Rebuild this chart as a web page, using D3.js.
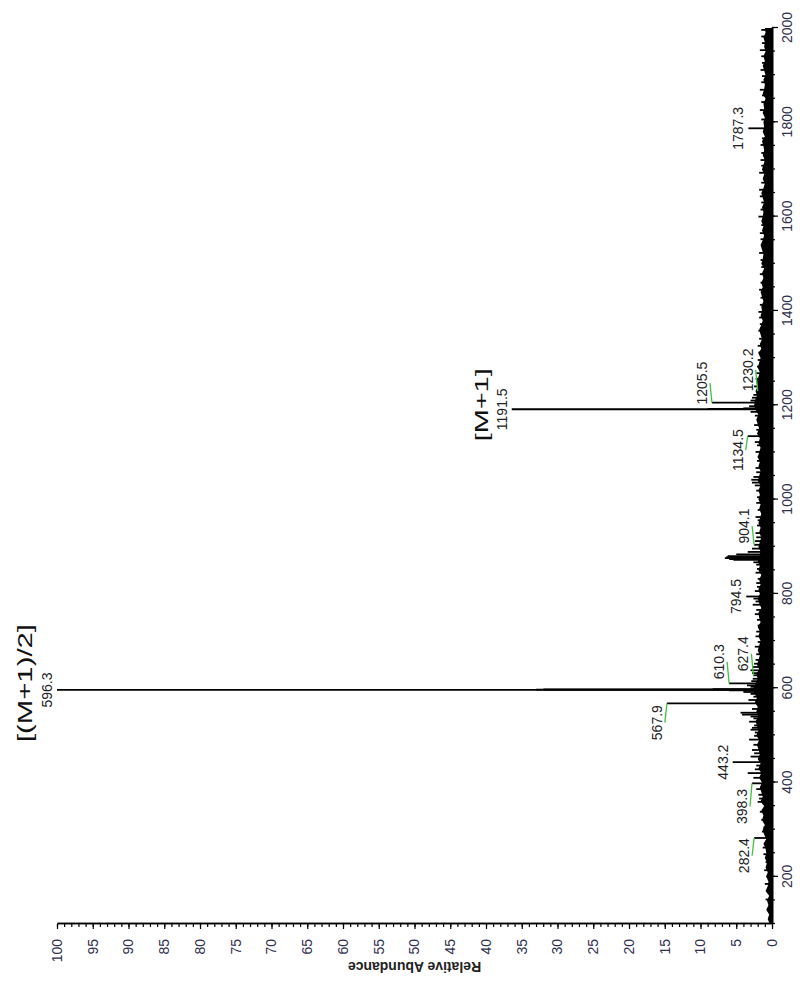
<!DOCTYPE html>
<html>
<head>
<meta charset="utf-8">
<script src="https://cdn.jsdelivr.net/npm/d3@7"></script>
<style>
html,body{margin:0;padding:0;background:#fff;}
svg{display:block;font-family:"Liberation Sans",Arial,sans-serif;}
</style>
</head>
<body>
<svg id="chart" width="800" height="982"></svg>
<script>
// axis ranges and ticks
const mzDomain = [100, 2000];
const abDomain = [0, 100];
const mzTicks = [200, 400, 600, 800, 1000, 1200, 1400, 1600, 1800, 2000];
const abTicks = [0, 5, 10, 15, 20, 25, 30, 35, 40, 45, 50, 55, 60, 65, 70, 75, 80, 85, 90, 95, 100];

// labelled peaks: [m/z, relative abundance %, label]
const labelledPeaks = [
  [282.4, 2.5, "282.4"], [398.3, 2.8, "398.3"], [443.2, 5.5, "443.2"],
  [567.9, 14.7, "567.9"], [596.3, 100, "596.3"], [610.3, 6.0, "610.3"],
  [627.4, 2.6, "627.4"], [794.5, 3.6, "794.5"], [904.1, 2.5, "904.1"],
  [1134.5, 3.4, "1134.5"], [1191.5, 36.4, "1191.5"], [1205.5, 8.4, "1205.5"],
  [1230.2, 2.0, "1230.2"], [1787.3, 3.3, "1787.3"]
];

// other visible spikes: [m/z, relative abundance %]
const minorPeaks = [
  [152,0.9],[168,0.7],[185,1.0],[201,0.8],[214,1.1],[231,0.9],[248,1.2],[262,1.3],[271,1.0],
  [296,1.4],[305,1.2],[321,1.5],[338,1.7],[359,2.0],[366,1.8],[374,1.9],[386,2.2],[410,2.6],
  [420,3.4],[428,2.4],[436,2.2],[455,3.0],[462,2.5],[469,2.8],[480,2.6],[491,3.2],[499,2.5],
  [506,2.4],[512,3.0],[516,2.8],[521,2.5],[529,3.2],[536,2.6],[540,3.0],[544,4.2],[548,4.4],
  [556,2.8],[575,3.3],[582,2.6],[588,3.0],[592,4.0],[595.3,6.0],[596.8,33],[597.3,32],
  [597.8,8.3],[598.3,3.0],[603,3.0],[606,3.5],[615,2.9],[620,2.7],[632,2.8],[638,3.0],[645,2.7],
  [652,2.5],[660,2.3],[672,2.2],[688,2.4],[698,2.0],[710,2.3],[720,2.2],[733,2.0],[745,2.1],
  [757,2.4],[766,2.2],[777,2.7],[784,2.3],[790,2.6],[806,2.4],[815,2.1],[823,2.2],[832,2.0],
  [845,2.3],[853,2.1],[862,2.2],[867,2.6],[872,5.4],[874,6.0],[876,6.6],[878,6.4],[880,6.2],
  [884,5.0],[889,3.4],[896,2.8],
  [912,2.4],[920,2.2],[929,2.3],[945,2.1],[956,2.0],[963,2.3],[978,2.0],[993,2.2],[1005,2.1],
  [1019,2.2],[1030,2.4],[1036,2.8],[1042,2.9],[1048,2.6],[1058,2.2],[1067,2.3],[1082,2.1],
  [1091,2.0],[1101,2.3],[1115,2.1],[1122,2.4],[1148,2.2],[1158,2.5],[1169,2.1],[1178,2.4],
  [1186,3.0],[1192.5,9.0],[1193.5,4.0],[1198,3.2],[1210,3.0],[1216,2.8],[1222,2.6],[1240,2.5],
  [1256,2.3],[1268,2.2],[1282,2.1],[1296,2.0],[1312,1.9],[1326,2.0],[1341,1.8],[1358,1.9],
  [1372,1.7],[1386,1.8],[1398,1.9],[1413,1.7],[1428,1.6],[1445,1.8],[1460,1.6],[1478,1.7],
  [1493,1.5],[1508,1.6],[1523,1.8],[1540,1.5],[1552,1.6],[1565,1.7],[1582,1.5],[1600,1.9],
  [1615,1.6],[1630,1.5],[1643,1.7],[1657,1.8],[1672,1.5],[1693,1.8],[1708,1.5],[1720,1.6],
  [1735,1.5],[1752,1.6],[1766,1.4],[1806,1.5],[1826,1.7],[1843,1.5],[1857,1.4],[1869,1.7],
  [1885,1.5],[1898,1.4],[1911,1.6],[1926,1.4],[1940,1.5],[1953,1.7],[1968,1.4],[1982,1.5],[1996,1.5]
];

// dense baseline envelope, read every 10 m/z: [m/z, %]
const noise = [
  [100,0.3],[110,0.6],[120,0.4],[130,0.8],[140,0.5],[150,0.7],[160,0.4],[170,0.9],[180,0.6],[190,0.5],
  [200,0.8],[210,0.6],[220,0.9],[230,0.7],[240,1.0],[250,0.8],[260,0.9],[270,1.2],[280,0.8],[290,1.1],
  [300,1.3],[310,1.0],[320,1.4],[330,1.2],[340,1.5],[350,1.1],[360,1.6],[370,1.3],[380,1.5],[390,1.7],
  [400,1.4],[410,1.8],[420,1.5],[430,1.9],[440,1.6],[450,2.0],[460,1.7],[470,1.9],[480,2.1],[490,1.8],
  [500,2.2],[510,1.9],[520,2.1],[530,2.3],[540,1.9],[550,2.2],[560,2.0],[570,2.4],[580,2.1],[590,2.5],
  [600,2.6],[610,2.3],[620,2.0],[630,2.2],[640,1.8],[650,2.1],[660,1.9],[670,1.7],[680,2.0],[690,1.8],
  [700,1.6],[710,1.9],[720,1.7],[730,2.0],[740,1.6],[750,1.8],[760,1.9],[770,1.5],[780,1.8],[790,2.0],
  [800,1.7],[810,1.9],[820,1.6],[830,1.8],[840,1.5],[850,1.9],[860,1.7],[870,2.0],[880,1.8],[890,1.6],
  [900,1.9],[910,1.7],[920,1.5],[930,1.8],[940,1.6],[950,1.9],[960,1.7],[970,1.5],[980,1.8],[990,1.6],
  [1000,1.9],[1010,1.7],[1020,1.9],[1030,1.6],[1040,2.0],[1050,1.8],[1060,1.6],[1070,1.9],[1080,1.7],
  [1090,2.0],[1100,1.8],[1110,1.6],[1120,1.9],[1130,1.7],[1140,2.1],[1150,1.8],[1160,2.0],[1170,2.2],
  [1180,1.9],[1190,2.3],[1200,2.5],[1210,2.4],[1220,2.1],[1230,2.3],[1240,2.0],[1250,2.2],[1260,1.9],
  [1270,1.7],[1280,2.0],[1290,1.8],[1300,1.6],[1310,1.9],[1320,1.5],[1330,1.7],[1340,1.4],[1350,1.6],
  [1360,1.8],[1370,1.5],[1380,1.3],[1390,1.6],[1400,1.4],[1410,1.5],[1420,1.2],[1430,1.4],[1440,1.6],
  [1450,1.3],[1460,1.5],[1470,1.2],[1480,1.4],[1490,1.1],[1500,1.5],[1510,1.3],[1520,1.2],[1530,1.4],
  [1540,1.6],[1550,1.3],[1560,1.1],[1570,1.4],[1580,1.2],[1590,1.5],[1600,1.3],[1610,1.2],[1620,1.4],
  [1630,1.1],[1640,1.3],[1650,1.5],[1660,1.2],[1670,1.0],[1680,1.3],[1690,1.1],[1700,1.4],[1710,1.2],
  [1720,1.0],[1730,1.3],[1740,1.1],[1750,1.2],[1760,1.4],[1770,1.0],[1780,1.3],[1790,1.1],[1800,1.2],
  [1810,1.0],[1820,1.3],[1830,1.1],[1840,1.2],[1850,0.9],[1860,1.3],[1870,1.1],[1880,1.0],[1890,1.2],
  [1900,0.9],[1910,1.1],[1920,1.3],[1930,1.0],[1940,1.2],[1950,0.9],[1960,1.1],[1970,1.0],[1980,1.2],
  [1990,0.9],[2000,1.0]
];

// ion annotations: [text, peak it belongs to]
const annotations = [["[(M+1)/2]", "596.3"], ["[M+1]", "1191.5"]];

// where a label is pushed aside (m/z of label centre); a green leader is drawn
const labelShift = {
  "282.4": 245, "398.3": 349, "567.9": 527, "610.3": 656, "627.4": 673,
  "904.1": 944, "1134.5": 1105, "1205.5": 1247, "1230.2": 1275
};
const annotLayout = {
  "[(M+1)/2]": {mz: 611, ab: 100, lift: 25, len: 118, size: 20},
  "[M+1]": {mz: 1201, ab: 36.4, lift: 24, len: 73, size: 19}
};

// plot drawn unrotated, then turned -90deg like the scanned page
const W = 896, H = 715;
const svg = d3.select("#chart");
const g = svg.append("g").attr("transform", "translate(57,924) rotate(-90)");

const x = d3.scaleLinear().domain(mzDomain).range([0, W]);
const y = d3.scaleLinear().domain(abDomain).range([H, 0]);

// baseline noise
g.append("path")
  .datum(noise)
  .attr("d", d3.area().x(d => x(d[0])).y0(H).y1(d => y(d[1])))
  .attr("fill", "#000");

const sticks = minorPeaks.concat(labelledPeaks.map(d => [d[0], d[1]]));
g.selectAll("line.pk")
  .data(sticks)
  .join("line")
  .attr("class", "pk")
  .attr("x1", d => x(d[0])).attr("x2", d => x(d[0]))
  .attr("y1", H).attr("y2", d => y(d[1]))
  .attr("stroke", "#000").attr("stroke-width", 1.8);

// leaders
const shifted = labelledPeaks.filter(d => labelShift[d[2]] !== undefined);
g.selectAll("line.lead")
  .data(shifted)
  .join("line")
  .attr("class", "lead")
  .attr("x1", d => x(d[0])).attr("y1", d => y(d[1]))
  .attr("x2", d => x(labelShift[d[2]])).attr("y2", d => y(d[1]) - 2)
  .attr("stroke", "#3fc43f").attr("stroke-width", 1.3);

// peak labels
g.selectAll("text.pl")
  .data(labelledPeaks)
  .join("text")
  .attr("class", "pl")
  .attr("x", d => x(labelShift[d[2]] !== undefined ? labelShift[d[2]] : d[0]))
  .attr("y", d => y(d[1]) - 5)
  .attr("text-anchor", "middle")
  .attr("font-size", 14)
  .attr("fill", "#222")
  .text(d => d[2]);

// ion annotations
annotations.forEach(([txt]) => {
  const L = annotLayout[txt];
  g.append("text")
    .attr("x", x(L.mz))
    .attr("y", y(L.ab) - L.lift)
    .attr("text-anchor", "middle")
    .attr("font-size", L.size)
    .attr("textLength", L.len)
    .attr("lengthAdjust", "spacingAndGlyphs")
    .attr("fill", "#111")
    .text(txt);
});

// axes
const tickCol = "#30304e";
const mzMinor = g.append("g").attr("transform", `translate(0,${H})`)
  .call(d3.axisBottom(x).tickValues(d3.range(100, 2001, 50)).tickSize(3).tickSizeOuter(0).tickFormat(""));
const mzAxis = g.append("g").attr("transform", `translate(0,${H})`)
  .call(d3.axisBottom(x).tickValues(mzTicks).tickSize(6).tickSizeOuter(0).tickPadding(4).tickFormat(d3.format("d")));
const abMinor = g.append("g")
  .call(d3.axisLeft(y).tickValues(d3.range(0, 101, 1)).tickSize(3).tickSizeOuter(0).tickFormat(""));
const abAxis = g.append("g")
  .call(d3.axisLeft(y).tickValues(abTicks).tickSize(5).tickSizeOuter(0).tickPadding(10));

[mzMinor, mzAxis, abMinor, abAxis].forEach(a => {
  a.selectAll(".domain").attr("stroke", "#000").attr("stroke-width", 1.6);
  a.selectAll(".tick line").attr("stroke", "#000").attr("stroke-width", 1.2);
  a.selectAll("text").attr("font-size", 14).attr("fill", tickCol)
    .attr("font-family", '"Liberation Sans",Arial,sans-serif');
});

// y title
g.append("text")
  .attr("transform", `translate(-38,${y(50)}) rotate(-90)`)
  .attr("text-anchor", "middle")
  .attr("font-size", 14)
  .attr("font-weight", "bold")
  .attr("fill", "#222")
  .text("Relative Abundance");
</script>
</body>
</html>
